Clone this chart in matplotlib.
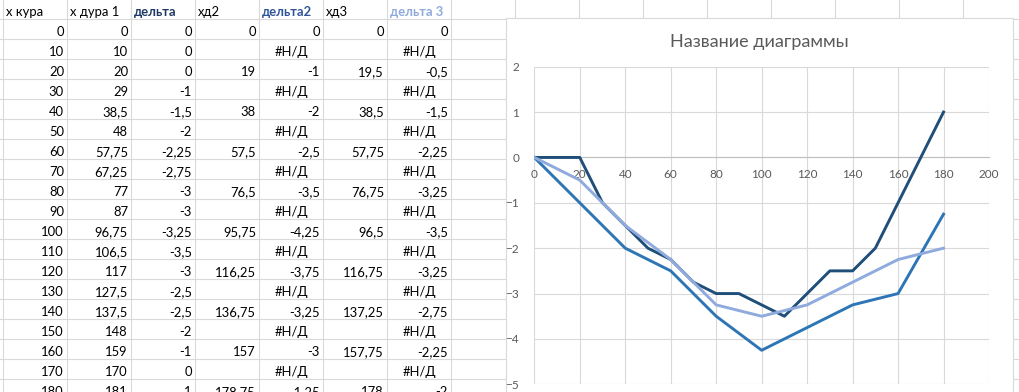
import numpy as np
import matplotlib
matplotlib.use("Agg")
import matplotlib.pyplot as plt
from matplotlib.patches import Rectangle

# ---------------- data ----------------
headers = ["х кура", "х дура 1", "дельта", "хд2", "дельта2", "хд3", "дельта 3"]
x_kura = [0, 10, 20, 30, 40, 50, 60, 70, 80, 90, 100, 110, 120, 130, 140, 150, 160, 170, 180]
x_dura1 = [0, 10, 20, 29, 38.5, 48, 57.75, 67.25, 77, 87, 96.75, 106.5, 117, 127.5, 137.5, 148, 159, 170, 181]
delta = [0, 0, 0, -1, -1.5, -2, -2.25, -2.75, -3, -3, -3.25, -3.5, -3, -2.5, -2.5, -2, -1, 0, 1]
xd2 = [0, None, 19, None, 38, None, 57.5, None, 76.5, None, 95.75, None, 116.25, None, 136.75, None, 157, None, 178.75]
delta2 = [0, None, -1, None, -2, None, -2.5, None, -3.5, None, -4.25, None, -3.75, None, -3.25, None, -3, None, -1.25]
xd3 = [0, None, 19.5, None, 38.5, None, 57.75, None, 76.75, None, 96.5, None, 116.75, None, 137.25, None, 157.75, None, 178]
delta3 = [0, None, -0.5, None, -1.5, None, -2.25, None, -3.25, None, -3.5, None, -3.25, None, -2.75, None, -2.25, None, -2]
chart_title = "Название диаграммы"
x_ticks = [0, 20, 40, 60, 80, 100, 120, 140, 160, 180, 200]
y_ticks = [-5, -4, -3, -2, -1, 0, 1, 2]

c_dark = "#1F4E79"
c_mid = "#2E75B6"
c_light = "#8FAADC"

plt.rcParams['font.family'] = ['Lato', 'DejaVu Sans']

W, H = 1019, 392
fig = plt.figure(figsize=(W / 100, H / 100), dpi=100)
fig.patch.set_facecolor("white")

bg = fig.add_axes([0, 0, 1, 1])
bg.set_xlim(0, W)
bg.set_ylim(H, 0)
bg.axis("off")

grid_c = "#d9d9d9"
col_w = 64
row_h = 20
row0 = 19.3
for k in range(17):
    x = 3 + col_w * k
    bg.plot([x, x], [0, H], color=grid_c, lw=0.8, zorder=1)
for k in range(20):
    y = row0 + row_h * k
    bg.plot([0, W], [y, y], color=grid_c, lw=0.8, zorder=1)


def fmt(v):
    if v is None:
        return ""
    if float(v).is_integer():
        return str(int(v))
    return ("%g" % v).replace(".", ",")


hdr_colors = ["black", "black", "#203864", "black", "#2F5597", "black", "#8FAADC"]
hdr_weights = ["normal", "normal", "bold", "normal", "bold", "normal", "bold"]
fs = 9.4
for j, h in enumerate(headers):
    bg.text(3 + col_w * j + 3, row0 - 3.6, h, ha="left", va="baseline",
            fontsize=fs, color=hdr_colors[j], fontweight=hdr_weights[j], zorder=2)

cols = [x_kura, x_dura1, delta, xd2, delta2, xd3, delta3]
na_cols = {4, 6}
for i in range(len(x_kura)):
    yb = row0 + row_h * (i + 1) - 3.6
    for j, col in enumerate(cols):
        v = col[i]
        if v is None:
            if j in na_cols:
                bg.text(3 + col_w * j + col_w / 2, yb, "#Н/Д", ha="center",
                        va="baseline", fontsize=fs, color="black", zorder=2)
            continue
        bg.text(col_w * (j + 1), yb, fmt(v), ha="right", va="baseline",
                fontsize=fs, color="black", zorder=2)

# chart area
bg.add_patch(Rectangle((506, 18), 507, 420, facecolor="white",
                       edgecolor="#d9d9d9", lw=0.8, zorder=5))
bg.text(759.5, 42, chart_title, ha="center", va="center", fontsize=13,
        color="#595959", zorder=6)

# plot area
pl, pr, pt, pb = 534.3, 989.0, 66.7, 384.3
ax = fig.add_axes([pl / W, 1 - pb / H, (pr - pl) / W, (pb - pt) / H])
ax.set_facecolor("none")
ax.set_xlim(0, 200)
ax.set_ylim(-5, 2)
ax.set_xticks(x_ticks)
ax.set_yticks(y_ticks)
ax.grid(True, color="#d9d9d9", lw=0.8)
ax.set_axisbelow(True)
for s in ["top", "right", "left"]:
    ax.spines[s].set_visible(False)
ax.spines["bottom"].set_position(("data", 0))
ax.spines["bottom"].set_color("#bfbfbf")
ax.spines["bottom"].set_linewidth(0.8)
ax.tick_params(axis="both", length=0, labelsize=8.5, labelcolor="#595959")
ax.tick_params(axis="x", pad=8)
ax.tick_params(axis="y", pad=11)


def series(xs, ys):
    pts = [(x, y) for x, y in zip(xs, ys) if y is not None]
    return [p[0] for p in pts], [p[1] for p in pts]


for ys, c in [(delta, c_dark), (delta2, c_mid), (delta3, c_light)]:
    sx, sy = series(x_kura, ys)
    ax.plot(sx, sy, color=c, lw=2.1, solid_joinstyle="round", zorder=3)

fig.savefig("out.png", dpi=100)
